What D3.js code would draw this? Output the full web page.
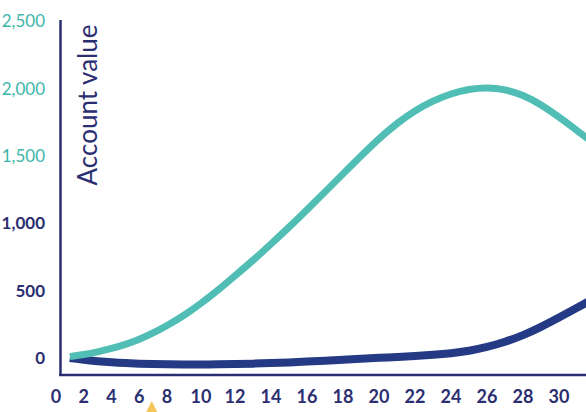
<!DOCTYPE html>
<html>
<head>
<meta charset="utf-8">
<script src="https://cdn.jsdelivr.net/npm/d3@7"></script>
<style>
  html, body { margin: 0; padding: 0; background: #fff; }
  svg { display: block; }
</style>
</head>
<body>
<svg id="chart" width="586" height="412"></svg>
<script>
const years = d3.range(1, 33);
const tealValues = [10, 25, 45, 70, 100, 138, 185, 240, 315, 405, 503, 610, 724, 845, 970, 1100,
  1232, 1366, 1500, 1628, 1742, 1836, 1908, 1962, 1996, 2008, 1994, 1952, 1880, 1788, 1688, 1585];
const navyValues = [0, -14, -24, -32, -38, -42, -45, -47, -48, -48, -47, -45, -42, -38, -33, -27,
  -20, -13, -6, 1, 8, 15, 23, 34, 52, 80, 118, 168, 230, 300, 372, 445];
const xTicks = d3.range(0, 31, 2);
const yTicks = [0, 500, 1000, 1500, 2000, 2500];
const markerYear = [6.9];
const yTitle = "Account value";

const svg = d3.select("#chart");
const navy = "#2b2f72";
const lineNavy = "#243a84";
const teal = "#50beb4";

const x = d3.scaleLinear().domain([0, 8, 12, 30]).range([56, 167, 235, 559]);
const y = d3.scaleLinear().domain([0, 2500]).range([358, 21]);

// axes frame
svg.append("line").attr("x1", 60.5).attr("x2", 60.5).attr("y1", 20).attr("y2", 375.5)
  .attr("stroke", navy).attr("stroke-width", 2.5);
svg.append("line").attr("x1", 59).attr("x2", 586).attr("y1", 375).attr("y2", 375)
  .attr("stroke", navy).attr("stroke-width", 2.5);

// y tick labels
svg.append("g").selectAll("text").data(yTicks).join("text")
  .attr("x", 45).attr("y", d => y(d))
  .attr("dy", "0.36em")
  .attr("text-anchor", "end")
  .attr("font-family", "Lato, sans-serif")
  .attr("font-size", 17)
  .attr("font-weight", d => d >= 1500 ? 400 : 700)
  .attr("fill", d => d >= 1500 ? "#3db6aa" : navy)
  .text(d => d3.format(",")(d));

// x tick labels
svg.append("g").selectAll("text").data(xTicks).join("text")
  .attr("x", d => x(d)).attr("y", 397)
  .attr("dy", "0.36em")
  .attr("text-anchor", "middle")
  .attr("font-family", "Lato, sans-serif")
  .attr("font-size", 18)
  .attr("font-weight", 700)
  .attr("fill", navy)
  .text(d => d);

// y title
svg.append("text")
  .attr("transform", "translate(97,105) rotate(-90)")
  .attr("text-anchor", "middle")
  .attr("font-family", "Lato, sans-serif")
  .attr("font-size", 26)
  .attr("fill", navy)
  .text(yTitle);

const line = d3.line().x(d => x(d[0])).y(d => y(d[1])).curve(d3.curveBasis);

svg.append("path").datum(years.map((t, i) => [t, navyValues[i]]))
  .attr("d", line).attr("fill", "none").attr("stroke", lineNavy)
  .attr("stroke-width", 8);
svg.append("path").datum(years.map((t, i) => [t, tealValues[i]]))
  .attr("d", line).attr("fill", "none").attr("stroke", teal)
  .attr("stroke-width", 7);

// marker triangle
svg.append("g").selectAll("path").data(markerYear).join("path")
  .attr("d", d => {
    const cx = x(d);
    return `M${cx},401 L${cx + 6},413 L${cx - 6},413 Z`;
  })
  .attr("fill", "#f6c558");
</script>
</body>
</html>
